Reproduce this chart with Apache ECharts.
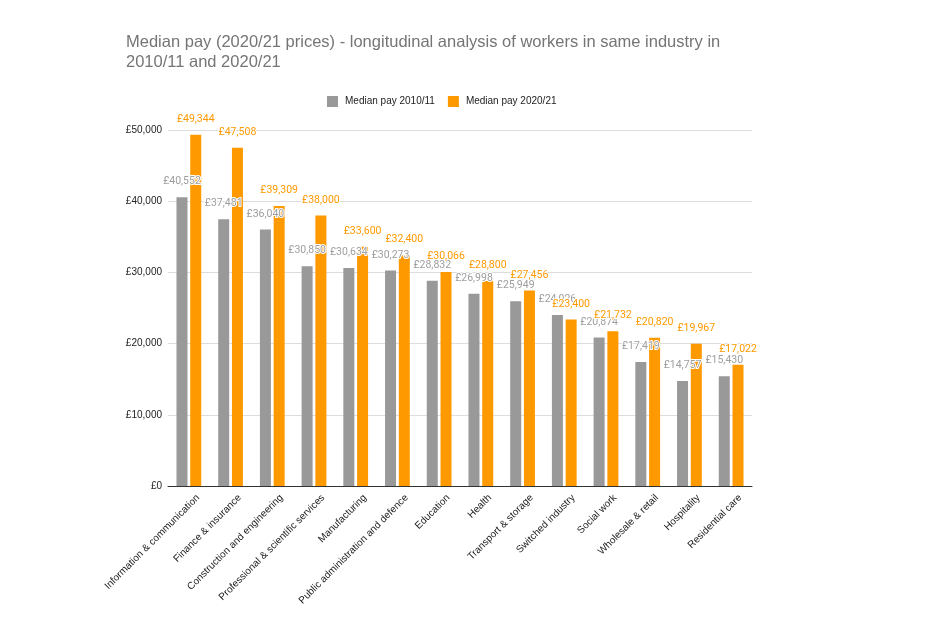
<!DOCTYPE html>
<html>
<head>
<meta charset="utf-8">
<script src="https://cdn.jsdelivr.net/npm/echarts@6/dist/echarts.min.js"></script>
<style>
	html, body { margin: 0; padding: 0; background: #fff; }
	#chart { width: 949px; height: 643px; }
</style>
</head>
<body>
<div id="chart"></div>
<script>
let industries = [
	"Information & communication",
	"Finance & insurance",
	"Construction and engineering",
	"Professional & scientific services",
	"Manufacturing",
	"Public administration and defence",
	"Education",
	"Health",
	"Transport & storage",
	"Switched industry",
	"Social work",
	"Wholesale & retail",
	"Hospitality",
	"Residential care",
];
let pay2010 = [40552, 37481, 36040, 30850, 30634, 30273, 28832, 26998, 25949, 24026, 20874, 17419, 14757, 15430];
let pay2020 = [49344, 47508, 39309, 38000, 33600, 32400, 30066, 28800, 27456, 23400, 21732, 20820, 19967, 17022];
let yTicks = [0, 10000, 20000, 30000, 40000, 50000];

let fmt = (v) => "£" + v.toLocaleString("en-GB");

let myChart = echarts.init(document.getElementById("chart"));

let labelOption = (color) => {
	return {
		show: true,
		position: "top",
		distance: 10,
		color: color,
		fontSize: 10.5,
		fontFamily: "Roboto",
		textBorderColor: "#fff",
		textBorderWidth: 2,
		formatter: (p) => fmt(p.value),
	};
};

let option = {
	animation: false,
	color: ["#999999", "#ff9900"],
	title: {
		text: "Median pay (2020/21 prices) - longitudinal analysis of workers in same industry in\n2010/11 and 2020/21",
		left: 121,
		top: 27,
		textStyle: {
			color: "#757575",
			fontSize: 16.5,
			fontWeight: "normal",
			fontFamily: "Liberation Sans",
			lineHeight: 20,
		},
	},
	legend: {
		top: 91,
		left: 322,
		itemWidth: 11,
		itemHeight: 11,
		itemGap: 13,
		icon: "rect",
		textStyle: { color: "#222", fontSize: 10, fontFamily: "Liberation Sans", padding: [0, 0, 0, 2] },
		data: ["Median pay 2010/11", "Median pay 2020/21"],
	},
	grid: {
		left: 168,
		right: 197,
		top: 130,
		bottom: 157,
	},
	xAxis: {
		type: "category",
		data: industries,
		axisTick: { show: false },
		axisLine: { lineStyle: { color: "#333", width: 1 } },
		axisLabel: {
			rotate: 45,
			interval: 0,
			margin: 1,
			verticalAlign: "top",
			lineHeight: 26,
			color: "#222",
			fontSize: 10,
			fontFamily: "Liberation Sans",
		},
	},
	yAxis: {
		type: "value",
		min: yTicks[0],
		max: yTicks[yTicks.length - 1],
		interval: yTicks[1] - yTicks[0],
		axisLine: { show: false },
		axisTick: { show: false },
		splitLine: { lineStyle: { color: "#dddddd" } },
		axisLabel: {
			color: "#222",
			fontSize: 10,
			fontFamily: "Liberation Sans",
			margin: 6,
			formatter: (v) => fmt(v),
		},
	},
	series: [
		{
			name: "Median pay 2010/11",
			type: "bar",
			barWidth: 11,
			barGap: "25%",
			data: pay2010,
			label: labelOption("#9e9e9e"),
		},
		{
			name: "Median pay 2020/21",
			type: "bar",
			barWidth: 11,
			barGap: "25%",
			data: pay2020,
			label: labelOption("#ff9900"),
		},
	],
};

myChart.setOption(option);
</script>
</body>
</html>
